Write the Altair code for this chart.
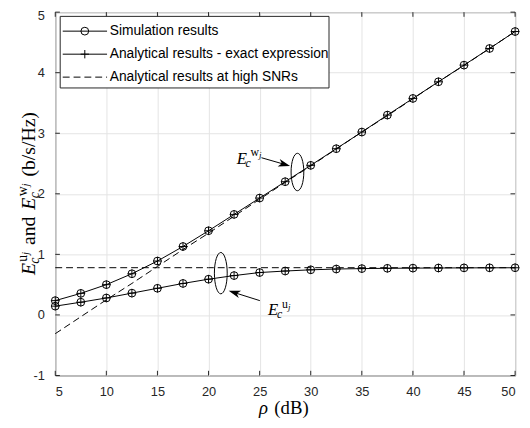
import altair as alt
import pandas as pd

# ---------------- data ----------------
rho = [5, 7.5, 10, 12.5, 15, 17.5, 20, 22.5, 25, 27.5, 30, 32.5, 35, 37.5, 40, 42.5, 45, 47.5, 50]
ecw_sim = [0.236, 0.356, 0.50, 0.68, 0.89, 1.13, 1.39, 1.66, 1.93, 2.20, 2.47, 2.745, 3.02, 3.30, 3.575, 3.85, 4.125, 4.40, 4.68]
ecu_sim = [0.145, 0.21, 0.28, 0.36, 0.44, 0.52, 0.59, 0.65, 0.70, 0.725, 0.745, 0.758, 0.765, 0.77, 0.773, 0.775, 0.777, 0.778, 0.779]
ecw_exact = [0.236, 0.356, 0.50, 0.68, 0.89, 1.13, 1.39, 1.66, 1.93, 2.20, 2.47, 2.745, 3.02, 3.30, 3.575, 3.85, 4.125, 4.40, 4.68]
ecu_exact = [0.145, 0.21, 0.28, 0.36, 0.44, 0.52, 0.59, 0.65, 0.70, 0.725, 0.745, 0.758, 0.765, 0.77, 0.773, 0.775, 0.777, 0.778, 0.779]
ecw_high = [-0.31, -0.03, 0.25, 0.52, 0.80, 1.08, 1.35, 1.63, 1.91, 2.19, 2.46, 2.74, 3.02, 3.29, 3.57, 3.85, 4.12, 4.40, 4.68]
ecu_high = [0.78, 0.78, 0.78, 0.78, 0.78, 0.78, 0.78, 0.78, 0.78, 0.78, 0.78, 0.78, 0.78, 0.78, 0.78, 0.78, 0.78, 0.78, 0.78]

x_ticks = [5, 10, 15, 20, 25, 30, 35, 40, 45, 50]
y_ticks = [-1, 0, 1, 2, 3, 4, 5]

legend_labels = ["Simulation results", "Analytical results - exact expression", "Analytical results at high SNRs"]

# ---------------- helpers ----------------
XS = alt.Scale(domain=[5, 50], nice=False, zero=False)
YS = alt.Scale(domain=[-1, 5], nice=False, zero=False)
DARK = "#262626"
SERIF = "Liberation Serif"
SANS = "Liberation Sans"

X_AXIS = alt.Axis(values=x_ticks, grid=True, gridColor="#e4e4e4", domain=False,
                  ticks=False, tickSize=0, labelFont=SANS, labelFontSize=13,
                  labelColor=DARK, labelPadding=10)
Y_AXIS = alt.Axis(values=y_ticks, grid=True, gridColor="#e4e4e4", domain=False,
                  ticks=False, tickSize=0, labelFont=SANS, labelFontSize=13,
                  labelColor=DARK, labelPadding=11, labelExpr="'' + datum.value",
                  labelOffset={"condition": {"test": "datum.value == 5", "value": 3.5}, "value": 0})


def long_df(pairs):
    rows = []
    for name, vals in pairs:
        for xv, yv in zip(rho, vals):
            rows.append({"x": xv, "y": yv, "s": name})
    return pd.DataFrame(rows)


def enc_xy():
    return dict(
        x=alt.X("x:Q", scale=XS, title=None, axis=X_AXIS),
        y=alt.Y("y:Q", scale=YS, title=None, axis=Y_AXIS),
    )


layers = []

# inner ticks
tick_rows = []
for v in x_ticks:
    tick_rows.append({"x": v, "y": -1, "x2": v, "y2": -0.923})
    tick_rows.append({"x": v, "y": 5, "x2": v, "y2": 4.923})
for v in y_ticks:
    tick_rows.append({"x": 5, "y": v, "x2": 5.45, "y2": v})
    tick_rows.append({"x": 50, "y": v, "x2": 49.55, "y2": v})
layers.append(alt.Chart(pd.DataFrame(tick_rows)).mark_rule(color=DARK, strokeWidth=1).encode(
    x2="x2:Q", y2="y2:Q", **enc_xy()))

# dashed asymptotes
dash_df = long_df([("w_high", ecw_high), ("u_high", ecu_high)])
layers.append(alt.Chart(dash_df).mark_line(color="black", strokeWidth=1, strokeDash=[7, 4]).encode(
    detail="s:N", **enc_xy()))

# solid exact lines
exact_df = long_df([("w_exact", ecw_exact), ("u_exact", ecu_exact)])
layers.append(alt.Chart(exact_df).mark_line(color="black", strokeWidth=1).encode(
    detail="s:N", **enc_xy()))

# plus markers (exact)
PLUS = "M-1,0L1,0M0,-1L0,1"
layers.append(alt.Chart(exact_df).mark_point(shape=PLUS, filled=False, size=72, color="black",
                                             strokeWidth=1, opacity=1).encode(**enc_xy()))

# circle markers (simulation)
sim_df = long_df([("w_sim", ecw_sim), ("u_sim", ecu_sim)])
layers.append(alt.Chart(sim_df).mark_point(shape="circle", filled=False, size=62, color="black",
                                           strokeWidth=1, opacity=1).encode(**enc_xy()))

# ---------------- annotations ----------------
def ellipse(cx, cy, h, ratio):
    path = f"M{-ratio},0A{ratio},1 0 1,0 {ratio},0A{ratio},1 0 1,0 {-ratio},0Z"
    return alt.Chart(pd.DataFrame({"x": [cx], "y": [cy]})).mark_point(
        shape=path, filled=False, size=h * h, color="black", strokeWidth=1, opacity=1
    ).encode(**enc_xy())


layers.append(ellipse(28.7, 2.36, 38, 0.34))
layers.append(ellipse(21.2, 0.69, 42, 0.31))

HEAD = "M1,0L-1,-0.65L-0.45,0L-1,0.65Z"


def arrow(tx, ty, hx, hy, ang):
    rule = alt.Chart(pd.DataFrame({"x": [tx], "y": [ty], "x2": [hx], "y2": [hy]})).mark_rule(
        color="black", strokeWidth=1).encode(x2="x2:Q", y2="y2:Q", **enc_xy())
    head = alt.Chart(pd.DataFrame({"x": [hx], "y": [hy]})).mark_point(
        shape=HEAD, filled=True, size=144, color="black", angle=ang, opacity=1).encode(**enc_xy())
    return [rule, head]


layers += arrow(25.18, 2.596, 27.42, 2.487, 16)
layers += arrow(25.02, 0.236, 22.52, 0.369, 197.6)


def label(ax, ay, sup):
    pieces = [
        ("E", 17, "italic", 0, 0),
        ("c", 12, "italic", 9, 3),
        (sup, 12, "normal", 14, -8),
        ("j", 9, "italic", 14 + (8.7 if sup == "w" else 6.2), -6),
    ]
    out = []
    for t, fs, st, dx, dy in pieces:
        out.append(alt.Chart(pd.DataFrame({"x": [ax], "y": [ay], "t": [t]})).mark_text(
            font=SERIF, fontSize=fs, fontStyle=st, dx=dx, dy=dy, align="left",
            baseline="alphabetic", color="black").encode(text="t:N", **enc_xy()))
    return out


layers += label(22.75, 2.488, "w")
layers += label(25.83, -0.008, "u")

# ---------------- axis titles (composed) ----------------
one = pd.DataFrame({"k": [0]})
ytitle = [
    ("E", 20, "italic", -20.7, 267),
    ("c", 14, "italic", -16.7, 255.5),
    ("u", 14, "normal", -28.7, 253.5),
    ("j", 10, "italic", -26.2, 246.5),
    ("and", 20, "normal", -20.7, 236.5),
    ("E", 20, "italic", -20.7, 200.6),
    ("c", 14, "italic", -16.7, 189),
    ("w", 14, "normal", -28.7, 187),
    ("j", 10, "italic", -26.2, 176.9),
    ("(b/s/Hz)", 20, "normal", -20.7, 167),
]
for t, fs, st, px, py in ytitle:
    layers.append(alt.Chart(one).mark_text(
        text=t, font=SERIF, fontSize=fs, fontStyle=st, angle=270, align="left",
        baseline="alphabetic", color="black").encode(x=alt.value(px), y=alt.value(py)))

xtitle = [("ρ", "italic", 207), ("(dB)", "normal", 222.5)]
for t, st, px in xtitle:
    layers.append(alt.Chart(one).mark_text(
        text=t, font=SERIF, fontSize=19, fontStyle=st, align="left",
        baseline="alphabetic", color="black").encode(x=alt.value(px), y=alt.value(408.5)))

# ---------------- legend (manual) ----------------
layers.append(alt.Chart(one).mark_rect(fill="white", stroke=DARK, strokeWidth=1).encode(
    x=alt.value(5), x2=alt.value(278), y=alt.value(4.3), y2=alt.value(77)))
rows_y = [19.3, 42.7, 66]
layers.append(alt.Chart(one).mark_rule(color="black", strokeWidth=1).encode(
    x=alt.value(7.6), x2=alt.value(52.6), y=alt.value(rows_y[0])))
layers.append(alt.Chart(one).mark_rule(color="black", strokeWidth=1).encode(
    x=alt.value(7.6), x2=alt.value(52.6), y=alt.value(rows_y[1])))
layers.append(alt.Chart(one).mark_rule(color="black", strokeWidth=1, strokeDash=[7, 4]).encode(
    x=alt.value(7.6), x2=alt.value(52.6), y=alt.value(rows_y[2])))
layers.append(alt.Chart(one).mark_point(shape="circle", filled=False, size=62, color="black",
                                        strokeWidth=1, opacity=1).encode(
    x=alt.value(30), y=alt.value(rows_y[0])))
layers.append(alt.Chart(one).mark_point(shape=PLUS, filled=False, size=72, color="black",
                                        strokeWidth=1, opacity=1).encode(
    x=alt.value(30), y=alt.value(rows_y[1])))
for lbl, ry in zip(legend_labels, rows_y):
    layers.append(alt.Chart(one).mark_text(
        text=lbl, font=SANS, fontSize=14, align="left", baseline="middle", color="black").encode(
        x=alt.value(55.3), y=alt.value(ry)))

chart = alt.layer(*layers).properties(
    width=467, height=369,
    padding={"left": 48, "top": 1, "right": 7, "bottom": 42},
    autosize=alt.AutoSizeParams(type="none"),
).configure_view(stroke=DARK, strokeWidth=1)

chart.save("out.html", embed_options={"renderer": "svg", "actions": False})
